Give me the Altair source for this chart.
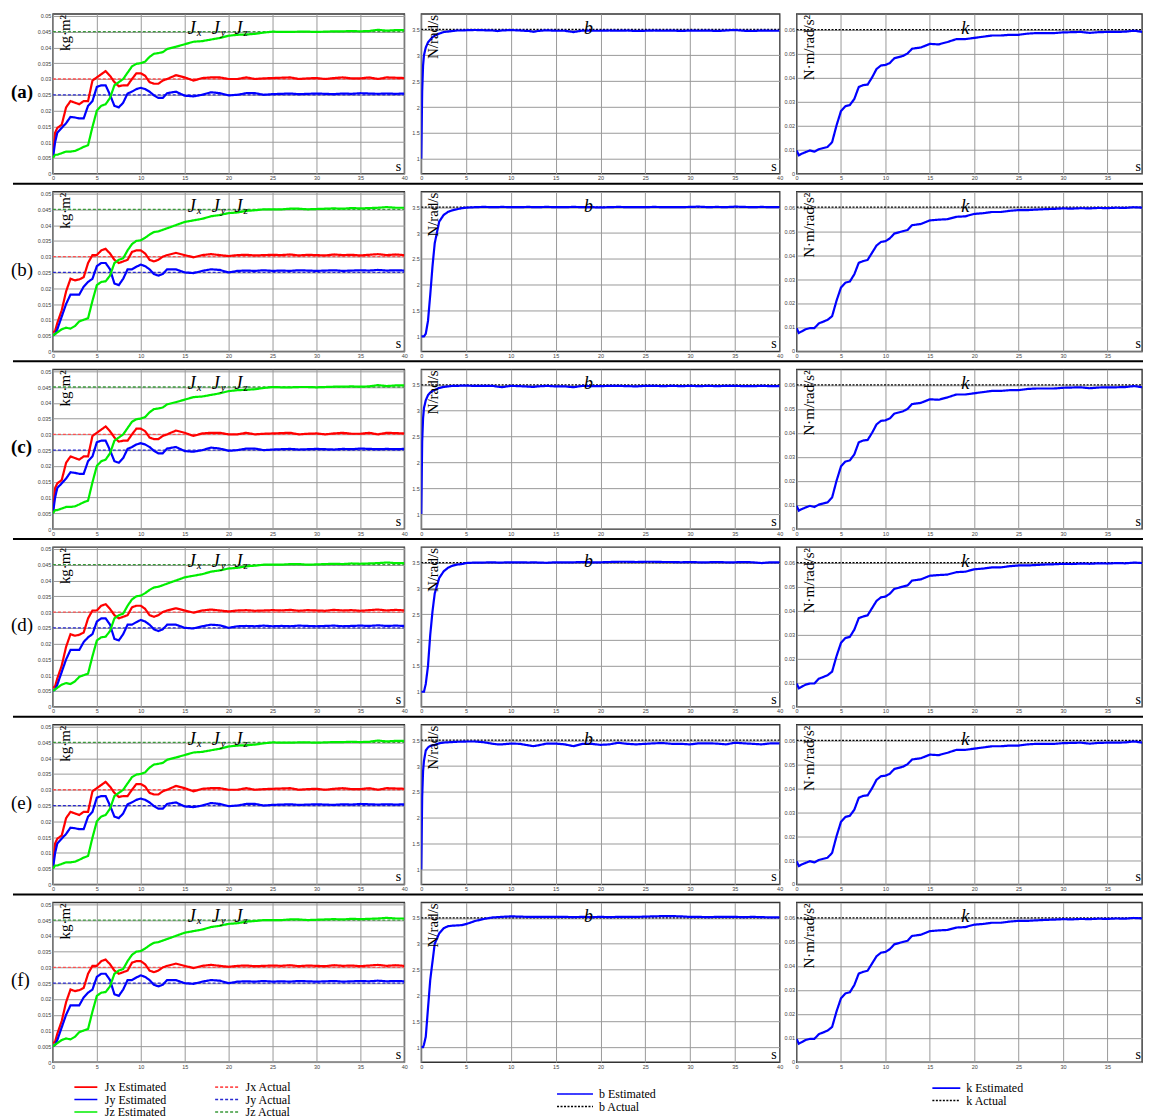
import altair as alt
import pandas as pd

# ---------------- data ----------------
T = [0, 0.25, 0.5, 1, 1.5, 2, 2.5, 3, 3.5, 4,
     4.5, 5, 5.5, 6, 6.5, 7, 7.5, 8, 8.5, 9,
     9.5, 10, 10.5, 11, 11.5, 12, 12.5, 13, 14, 15,
     16, 17, 18, 19, 20, 21, 22, 23, 24, 25,
     26, 27, 28, 29, 30, 31, 32, 33, 34, 35,
     36, 37, 38, 39, 40]

JX_A = [0.005, 0.013, 0.0145, 0.0155, 0.021, 0.023, 0.0225, 0.022, 0.023, 0.023,
        0.0295, 0.0305, 0.0315, 0.0325, 0.031, 0.029, 0.0277, 0.028, 0.028, 0.030,
        0.0318, 0.0318, 0.031, 0.029, 0.0285, 0.0285, 0.0295, 0.030, 0.0312, 0.0305,
        0.0295, 0.0303, 0.0305, 0.0305, 0.030, 0.030, 0.0305, 0.030, 0.0302, 0.0303,
        0.0304, 0.0305, 0.030, 0.0302, 0.0303, 0.030, 0.0303, 0.0305, 0.0302, 0.0302,
        0.0305, 0.030, 0.0305, 0.0304, 0.0303]
JY_A = [0.005, 0.010, 0.013, 0.0145, 0.016, 0.018, 0.0178, 0.0175, 0.0175, 0.0215,
        0.023, 0.0275, 0.028, 0.028, 0.025, 0.0215, 0.021, 0.0225, 0.0254, 0.026,
        0.0268, 0.0272, 0.0268, 0.026, 0.0248, 0.024, 0.024, 0.0255, 0.026, 0.0247,
        0.0245, 0.025, 0.0258, 0.0255, 0.0248, 0.025, 0.0255, 0.0255, 0.025, 0.0252,
        0.0253, 0.0254, 0.0252, 0.0253, 0.0254, 0.0253, 0.0252, 0.0254, 0.0253, 0.0255,
        0.0254, 0.0253, 0.0254, 0.0253, 0.0254]
JZ_A = [0.005, 0.006, 0.006, 0.0065, 0.007, 0.007, 0.0072, 0.0078, 0.0085, 0.009,
        0.0148, 0.020, 0.0215, 0.022, 0.024, 0.028, 0.029, 0.030, 0.032, 0.034,
        0.0348, 0.035, 0.0355, 0.037, 0.038, 0.0382, 0.0385, 0.0395, 0.0402, 0.041,
        0.0418, 0.042, 0.0425, 0.043, 0.0437, 0.044, 0.0441, 0.0443, 0.0447, 0.045,
        0.0449, 0.0449, 0.045, 0.045, 0.0449, 0.045, 0.0451, 0.0451, 0.0452, 0.0451,
        0.0452, 0.0456, 0.0453, 0.0455, 0.0455]

JX_B = [0.006, 0.0065, 0.009, 0.013, 0.019, 0.023, 0.0225, 0.0228, 0.0235, 0.028,
        0.0305, 0.0305, 0.032, 0.0325, 0.031, 0.029, 0.028, 0.0285, 0.029, 0.0315,
        0.032, 0.032, 0.031, 0.029, 0.0285, 0.029, 0.030, 0.0305, 0.0312, 0.0305,
        0.0298, 0.0305, 0.0308, 0.0305, 0.0302, 0.0305, 0.0306, 0.0304, 0.0305, 0.0306,
        0.0305, 0.0307, 0.0304, 0.0306, 0.0305, 0.0304, 0.0307, 0.0305, 0.0306, 0.0304,
        0.0306, 0.0308, 0.0305, 0.0307, 0.0305]
JY_B = [0.005, 0.0055, 0.007, 0.011, 0.015, 0.018, 0.018, 0.018, 0.0205, 0.022,
        0.023, 0.027, 0.028, 0.028, 0.026, 0.0215, 0.021, 0.023, 0.026, 0.026,
        0.0268, 0.0275, 0.027, 0.026, 0.0245, 0.024, 0.0245, 0.026, 0.026, 0.025,
        0.0248, 0.0255, 0.026, 0.0258, 0.025, 0.0255, 0.0256, 0.0255, 0.0257, 0.0255,
        0.0256, 0.0255, 0.0257, 0.0256, 0.0255, 0.0256, 0.0257, 0.0255, 0.0256, 0.0257,
        0.0256, 0.0258, 0.0256, 0.0257, 0.0256]
JZ_B = [0.005, 0.0055, 0.006, 0.007, 0.0075, 0.0072, 0.008, 0.0095, 0.010, 0.0105,
        0.016, 0.021, 0.022, 0.0222, 0.024, 0.028, 0.029, 0.0295, 0.032, 0.034,
        0.035, 0.0352, 0.036, 0.037, 0.0378, 0.038, 0.0385, 0.039, 0.040, 0.041,
        0.0415, 0.042, 0.0428, 0.0432, 0.0438, 0.044, 0.0445, 0.0447, 0.045, 0.045,
        0.045, 0.0452, 0.0452, 0.045, 0.0451, 0.0452, 0.0453, 0.0452, 0.0454, 0.0453,
        0.0454, 0.0455, 0.0457, 0.0455, 0.0455]

K_A = [0.0095, 0.0075, 0.008, 0.0088, 0.0095, 0.009, 0.010, 0.0105, 0.011, 0.013,
       0.020, 0.026, 0.028, 0.0285, 0.031, 0.036, 0.0368, 0.037, 0.040, 0.0435,
       0.045, 0.0452, 0.046, 0.048, 0.0485, 0.049, 0.050, 0.052, 0.0525, 0.054,
       0.0538, 0.0548, 0.056, 0.056, 0.0565, 0.057, 0.0575, 0.0575, 0.0578, 0.0578,
       0.0583, 0.0585, 0.0585, 0.0585, 0.0588, 0.0589, 0.059, 0.0586, 0.0589, 0.059,
       0.059, 0.0591, 0.0595, 0.059, 0.059]
K_B = [0.0095, 0.0075, 0.008, 0.009, 0.0095, 0.0095, 0.0115, 0.0122, 0.013, 0.0145,
       0.021, 0.0265, 0.0285, 0.029, 0.032, 0.0368, 0.0375, 0.038, 0.041, 0.044,
       0.0455, 0.0458, 0.047, 0.049, 0.0495, 0.050, 0.0505, 0.0525, 0.053, 0.0545,
       0.0548, 0.055, 0.056, 0.0562, 0.0572, 0.0575, 0.058, 0.058, 0.0585, 0.0588,
       0.0588, 0.059, 0.0592, 0.0593, 0.0595, 0.0594, 0.0596, 0.0595, 0.0597, 0.0596,
       0.0598, 0.0597, 0.060, 0.0598, 0.0597]

TB = [0, 0.1, 0.2, 0.3, 0.5, 0.75, 1, 1.25, 1.5, 2,
      2.5, 3, 3.5, 4, 4.5, 5, 6, 7, 8, 8.5,
      9, 10, 11, 12, 12.5, 13, 14, 15, 16, 17,
      18, 19, 20, 21, 22, 23, 24, 25, 26, 27,
      28, 29, 30, 31, 32, 33, 34, 35, 36, 37,
      38, 39, 40]
B_A = [1.0, 2.3, 2.8, 3.0, 3.15, 3.25, 3.3, 3.35, 3.38, 3.42,
       3.45, 3.46, 3.47, 3.48, 3.48, 3.485, 3.49, 3.485, 3.48, 3.47,
       3.48, 3.49, 3.48, 3.47, 3.455, 3.47, 3.485, 3.475, 3.475, 3.45,
       3.48, 3.475, 3.475, 3.48, 3.475, 3.48, 3.47, 3.475, 3.48, 3.475,
       3.48, 3.47, 3.48, 3.475, 3.48, 3.47, 3.48, 3.49, 3.475, 3.47,
       3.48, 3.475, 3.475]
B_B = [1.0, 1.0, 1.0, 1.0, 1.05, 1.3, 1.8, 2.35, 2.8, 3.22,
       3.35, 3.41, 3.44, 3.46, 3.48, 3.49, 3.5, 3.505, 3.5, 3.5,
       3.505, 3.5, 3.5, 3.505, 3.5, 3.5, 3.505, 3.5, 3.5, 3.505,
       3.5, 3.5, 3.495, 3.5, 3.505, 3.5, 3.5, 3.5, 3.505, 3.5,
       3.5, 3.5, 3.505, 3.51, 3.5, 3.505, 3.5, 3.51, 3.505, 3.5,
       3.505, 3.5, 3.5]
B_C = [1.0, 2.4, 2.85, 3.05, 3.2, 3.3, 3.35, 3.38, 3.4, 3.44,
       3.46, 3.47, 3.48, 3.48, 3.485, 3.485, 3.48, 3.48, 3.48, 3.465,
       3.455, 3.48, 3.475, 3.465, 3.46, 3.47, 3.48, 3.47, 3.47, 3.455,
       3.48, 3.475, 3.475, 3.48, 3.48, 3.475, 3.47, 3.48, 3.48, 3.475,
       3.48, 3.475, 3.48, 3.475, 3.48, 3.475, 3.48, 3.48, 3.475, 3.475,
       3.48, 3.475, 3.475]
B_D = [1.0, 1.0, 1.0, 1.0, 1.15, 1.5, 2.1, 2.55, 2.9, 3.2,
       3.33, 3.4, 3.44, 3.46, 3.47, 3.49, 3.5, 3.5, 3.505, 3.5,
       3.5, 3.505, 3.505, 3.5, 3.505, 3.5, 3.495, 3.505, 3.505, 3.505,
       3.51, 3.505, 3.505, 3.51, 3.515, 3.515, 3.51, 3.515, 3.515, 3.51,
       3.51, 3.505, 3.51, 3.505, 3.505, 3.51, 3.505, 3.505, 3.51, 3.505,
       3.49, 3.505, 3.505]
B_E = [1.0, 2.4, 2.9, 3.1, 3.3, 3.36, 3.39, 3.4, 3.41, 3.44,
       3.455, 3.46, 3.465, 3.47, 3.47, 3.475, 3.475, 3.46, 3.43, 3.42,
       3.42, 3.435, 3.43, 3.40, 3.385, 3.40, 3.435, 3.435, 3.42, 3.385,
       3.43, 3.43, 3.41, 3.42, 3.45, 3.43, 3.42, 3.43, 3.44, 3.445,
       3.43, 3.43, 3.42, 3.44, 3.44, 3.435, 3.42, 3.45, 3.44, 3.43,
       3.42, 3.44, 3.44]
B_F = [1.0, 1.0, 1.0, 1.05, 1.2, 1.75, 2.3, 2.65, 3.0, 3.2,
       3.3, 3.34, 3.35, 3.355, 3.36, 3.38, 3.44, 3.48, 3.51, 3.515,
       3.52, 3.53, 3.525, 3.52, 3.52, 3.52, 3.52, 3.52, 3.52, 3.515,
       3.52, 3.515, 3.52, 3.515, 3.52, 3.52, 3.52, 3.525, 3.53, 3.535,
       3.535, 3.53, 3.52, 3.52, 3.515, 3.52, 3.52, 3.52, 3.515, 3.52,
       3.515, 3.51, 3.51]

ROW_LABELS = ["(a)", "(b)", "(c)", "(d)", "(e)", "(f)"]
ROW_BOLD = [True, False, True, False, False, False]
ROW_J = [(JX_A, JY_A, JZ_A), (JX_B, JY_B, JZ_B), (JX_A, JY_A, JZ_A),
         (JX_B, JY_B, JZ_B), (JX_A, JY_A, JZ_A), (JX_B, JY_B, JZ_B)]
ROW_B = [B_A, B_B, B_C, B_D, B_E, B_F]
ROW_K = [K_A, K_B, K_A, K_B, K_A, K_B]

J_EST_NAMES = ["Jx Estimated", "Jy Estimated", "Jz Estimated"]
J_ACT_NAMES = ["Jx Actual", "Jy Actual", "Jz Actual"]
J_ACTUAL = [0.03, 0.025, 0.045]
B_NAMES = ["b Estimated", "b Actual"]
B_ACTUAL = 3.5
K_NAMES = ["k Estimated", "k Actual"]
K_ACTUAL = 0.06
T_END = [0, 40]

# ---------------- style ----------------
SERIF = "Liberation Serif"
W_L, W_M, W_R, H = 352, 359, 346, 160
K_XMAX = 38.9
J_COLORS = ["#ff0000", "#0000ff", "#00ee00", "#ff5050", "#2a2ad0", "#3a9a3a"]
DASH_SOLID, DASH = [1, 0], [3, 2]
J_DASHES = [DASH_SOLID, DASH_SOLID, DASH_SOLID, DASH, DASH, DASH]


def x_enc(xmax=40):
    return alt.X("t:Q", title=None, scale=alt.Scale(domain=[0, xmax], nice=False, zero=False),
                 axis=alt.Axis(values=[v for v in range(0, 41, 5) if v <= xmax]))


def y_enc(domain, values):
    return alt.Y("v:Q", title=None, scale=alt.Scale(domain=domain, nice=False, zero=False),
                 axis=alt.Axis(values=values))


def txt(s, x, y, size, **kw):
    return alt.Chart(pd.DataFrame({"s": [s]})).mark_text(
        fontSize=size, font=SERIF, color="black", **kw
    ).encode(x=alt.value(x), y=alt.value(y), text="s:N")


def lines(est_df, act_df, names, colors, dashes, ydom, yvals, legend, xmax=40):
    cs = alt.Scale(domain=names, range=colors)
    ds = alt.Scale(domain=names, range=dashes)
    col = alt.Color("s:N", scale=cs, title=None, legend=legend)
    dsh = alt.StrokeDash("s:N", scale=ds, title=None, legend=legend)
    act = alt.Chart(act_df).mark_line(strokeWidth=1.3, clip=True).encode(
        x=x_enc(xmax), y=y_enc(ydom, yvals), color=col, strokeDash=dsh, detail="s:N")
    est = alt.Chart(est_df).mark_line(strokeWidth=2.2, clip=True).encode(
        x=x_enc(xmax), y=y_enc(ydom, yvals), color=col, strokeDash=dsh, detail="s:N")
    return [act, est]


def separator():
    return alt.Chart(pd.DataFrame({"z": [0]})).mark_rule(color="black", strokeWidth=2).encode(
        x=alt.value(-40), x2=alt.value(1092), y=alt.value(H + 10))


def legend_cfg(x, y, cols, half, offset, colpad=40):
    # a horizontal stroke longer than the nominal symbol size keeps rows compact
    return alt.Legend(orient="none", legendX=x, legendY=y, columns=cols, direction="vertical",
                      symbolType=f"M-{half},0H{half}", symbolSize=100, symbolStrokeWidth=1.6,
                      symbolFillColor="transparent",
                      labelFont=SERIF, labelFontSize=12, labelColor="black",
                      labelOffset=offset, rowPadding=0.5, columnPadding=colpad)


def j_panel(i):
    jx, jy, jz = ROW_J[i]
    est = pd.concat([pd.DataFrame({"t": T, "v": arr, "s": nm})
                     for arr, nm in zip((jx, jy, jz), J_EST_NAMES)])
    act = pd.concat([pd.DataFrame({"t": T_END, "v": [val, val], "s": nm})
                     for val, nm in zip(J_ACTUAL, J_ACT_NAMES)])
    leg = legend_cfg(27, 179, 2, 2.3, 13, 45) if i == 5 else None
    layers = lines(est, act, J_EST_NAMES + J_ACT_NAMES, J_COLORS, J_DASHES, [0, 0.0506],
                   [round(0.005 * k, 3) for k in range(11)], leg)
    layers += [
        txt("kg·m²", 5, 1, 15, angle=270, align="right", baseline="top"),
        txt("J", 135, 15, 18, fontStyle="italic", align="left"),
        txt("x", 144, 19, 11, fontStyle="italic", align="left"),
        txt("J", 159, 15, 18, fontStyle="italic", align="left"),
        txt("y", 168, 19, 11, fontStyle="italic", align="left"),
        txt("J", 182, 15, 18, fontStyle="italic", align="left"),
        txt("z", 191, 19, 11, fontStyle="italic", align="left"),
        txt("s", W_L - 3, H - 3, 14, align="right", baseline="alphabetic"),
        txt(ROW_LABELS[i], -42, 78, 19, align="left", baseline="middle",
            fontWeight="bold" if ROW_BOLD[i] else "normal"),
    ]
    if i < 5:
        layers.append(separator())
    return alt.layer(*layers).properties(width=W_L, height=H)


def b_panel(i):
    est = pd.DataFrame({"t": TB, "v": ROW_B[i], "s": B_NAMES[0]})
    act = pd.DataFrame({"t": T_END, "v": [B_ACTUAL, B_ACTUAL], "s": B_NAMES[1]})
    leg = legend_cfg(148, 186, 1, 3.6, 18) if i == 5 else None
    layers = lines(est, act, B_NAMES, ["#0000ff", "#000000"], [DASH_SOLID, [2, 1.5]],
                   [0.71, 3.8], [1, 1.5, 2, 2.5, 3, 3.5], leg)
    layers += [
        txt("N/rad/s", 5, 1, 15, angle=270, align="right", baseline="top"),
        txt("b", 163, 15, 18, fontStyle="italic", align="left"),
        txt("s", W_M - 3, H - 3, 14, align="right", baseline="alphabetic"),
    ]
    return alt.layer(*layers).properties(width=W_M, height=H)


def k_panel(i):
    est = pd.DataFrame({"t": T, "v": ROW_K[i], "s": K_NAMES[0]})
    act = pd.DataFrame({"t": T_END, "v": [K_ACTUAL, K_ACTUAL], "s": K_NAMES[1]})
    leg = legend_cfg(144, 180, 1, 2.8, 14) if i == 5 else None
    layers = lines(est, act, K_NAMES, ["#0000ff", "#000000"], [DASH_SOLID, [2, 1.5]],
                   [-0.0002, 0.0665], [0, 0.01, 0.02, 0.03, 0.04, 0.05, 0.06], leg, K_XMAX)
    layers += [
        txt("N·m/rad/s²", 5, 1, 15, angle=270, align="right", baseline="top"),
        txt("k", 165, 15, 18, fontStyle="italic", align="left"),
        txt("s", W_R - 1, H - 3, 14, align="right", baseline="alphabetic"),
    ]
    return alt.layer(*layers).properties(width=W_R, height=H)


panels = []
for i in range(6):
    panels += [j_panel(i), b_panel(i), k_panel(i)]

chart = (
    alt.concat(*panels, columns=3, spacing={"row": 18, "column": 17},
               bounds="flush", align="each")
    .resolve_scale(color="independent", strokeDash="independent")
    .resolve_legend(color="independent", strokeDash="independent")
    .properties(padding={"left": 2, "top": 4, "right": 0, "bottom": 0})
    .configure_view(stroke="#333333", strokeWidth=1.4)
    .configure_axis(grid=True, gridColor="#9a9a9a", gridWidth=1, domain=False, ticks=False,
                    labelFont="Liberation Sans", labelFontSize=5.5, labelColor="#444444",
                    labelPadding=2, labelFlush=False, labelOverlap=False, format="~g")
)

chart.save("out.html", embed_options={"renderer": "svg", "actions": False})
